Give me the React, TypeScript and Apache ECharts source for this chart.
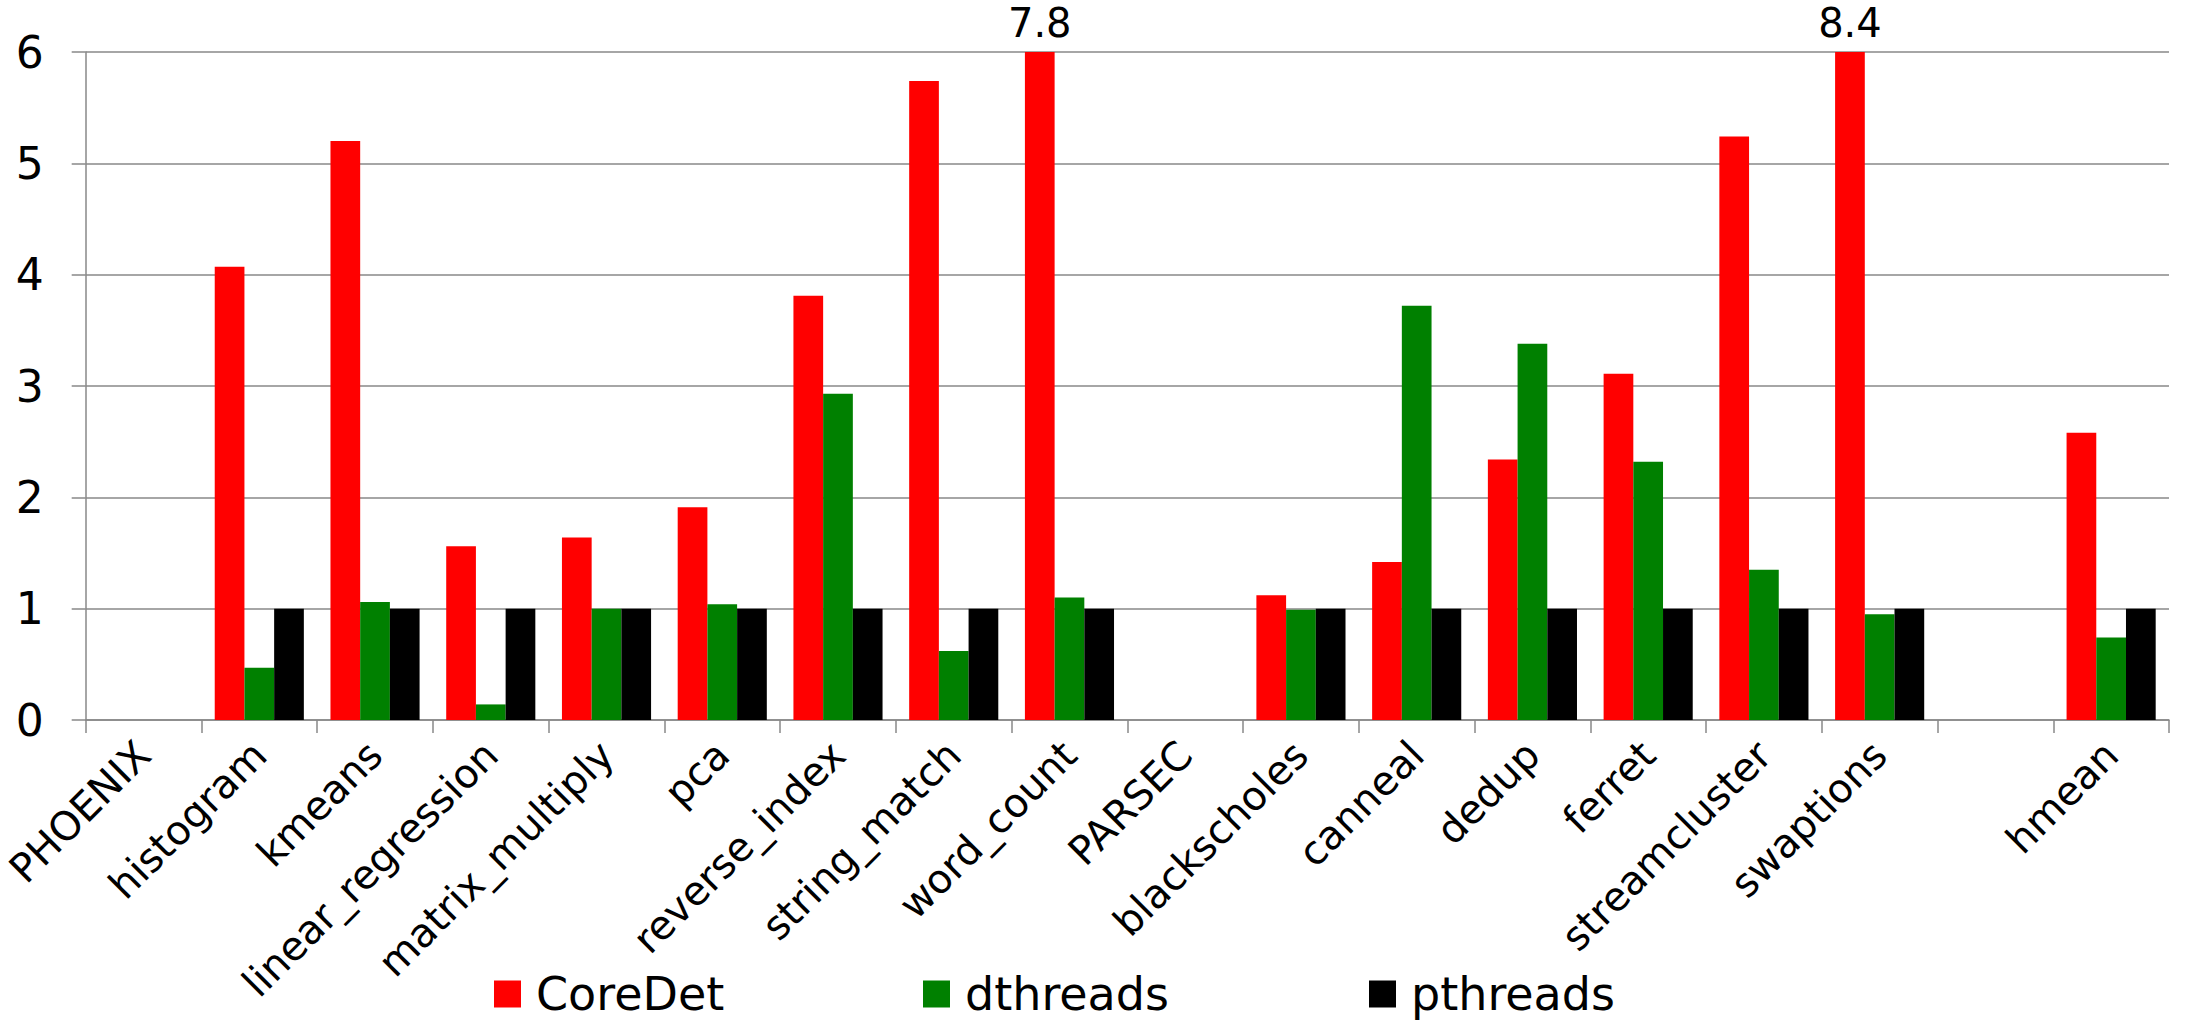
import React, { useEffect, useRef } from "react";
import * as echarts from "echarts";

const categories = [
  "PHOENIX", "histogram", "kmeans", "linear_regression", "matrix_multiply", "pca",
  "reverse_index", "string_match", "word_count", "PARSEC", "blackscholes", "canneal",
  "dedup", "ferret", "streamcluster", "swaptions", "", "hmean",
];
const coreDet = [null, 4.07, 5.2, 1.56, 1.64, 1.91, 3.81, 5.74, 7.8, null, 1.12, 1.42, 2.34, 3.11, 5.24, 8.4, null, 2.58];
const dthreads = [null, 0.47, 1.06, 0.14, 1.0, 1.04, 2.93, 0.62, 1.1, null, 0.99, 3.72, 3.38, 2.32, 1.35, 0.95, null, 0.74];
const pthreads = [null, 1, 1, 1, 1, 1, 1, 1, 1, null, 1, 1, 1, 1, 1, 1, null, 1];
const seriesNames = ["CoreDet", "dthreads", "pthreads"];
const seriesColors = ["#ff0000", "#008000", "#000000"];
const yMin = 0;
const yMax = 6;
const yStep = 1;

const FONT = "DejaVu Sans";

export default function App() {
  const ref = useRef<HTMLDivElement>(null);
  useEffect(() => {
    if (!ref.current) return;
    const chart = echarts.init(ref.current, null, { renderer: "svg" });
    const values = [coreDet, dthreads, pthreads];
    const legendLefts = [494, 923, 1369];
    chart.setOption({
      animation: false,
      backgroundColor: "#ffffff",
      textStyle: { fontFamily: FONT },
      grid: { left: 84, right: 16, top: 52, bottom: 300, containLabel: false },
      legend: seriesNames.map((n, i) => ({
        data: [n],
        left: legendLefts[i],
        top: 971,
        icon: "rect",
        itemWidth: 27,
        itemHeight: 27,
        itemGap: 0,
        textStyle: { fontSize: 46, color: "#000", fontFamily: FONT, lineHeight: 46, padding: [0, 0, 0, 10] },
        padding: 0,
      })),
      xAxis: {
        type: "category",
        data: categories,
        axisLine: { lineStyle: { color: "#888888", width: 1.5 } },
        axisTick: { show: true, length: 13, lineStyle: { color: "#888888", width: 1.5 } },
        axisLabel: { rotate: 45, interval: 0, fontSize: 40, color: "#000", fontFamily: FONT, margin: 28 },
      },
      yAxis: {
        type: "value",
        min: yMin,
        max: yMax,
        interval: yStep,
        axisLine: { show: true, lineStyle: { color: "#888888", width: 1.5 } },
        axisTick: { show: true, length: 14, lineStyle: { color: "#888888", width: 1.5 } },
        splitLine: { show: true, lineStyle: { color: "#888888", width: 1.5 } },
        axisLabel: { fontSize: 44, color: "#000", fontFamily: FONT, margin: 42 },
      },
      series: seriesNames.map((n, i) => ({
        name: n,
        type: "bar",
        data: values[i],
        clip: true,
        barGap: "0%",
        barCategoryGap: "23%",
        itemStyle: { color: seriesColors[i] },
        label: {
          show: true,
          position: "top",
          distance: 10,
          fontSize: 40,
          lineHeight: 38,
          color: "#000",
          fontFamily: FONT,
          formatter: (p: any) => (p.value != null && p.value > yMax ? String(p.value) : ""),
        },
      })),
    });
    return () => chart.dispose();
  }, []);
  return <div ref={ref} style={{ position: "absolute", left: 0, top: 0, width: 2185, height: 1020 }} />;
}
